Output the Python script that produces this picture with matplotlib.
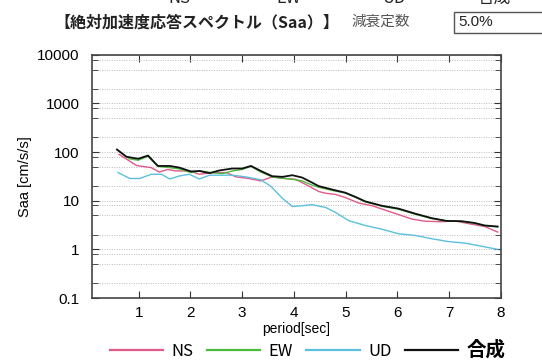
import numpy as np
import matplotlib
matplotlib.use('Agg')
from matplotlib import pyplot as plt
from matplotlib.ticker import LogLocator, NullFormatter, FixedLocator
from matplotlib.patches import Rectangle

jp = ['Noto Sans CJK JP', 'DejaVu Sans']
plt.rcParams['font.family'] = ['Liberation Sans', 'Noto Sans CJK JP', 'DejaVu Sans']

# period [sec] and Saa [cm/s/s]
ns_t = [0.62, 0.96, 1.24, 1.40, 1.56, 1.72, 1.98, 2.17, 2.43, 2.69, 2.88, 3.13, 3.36, 3.58, 3.78,
        4.03, 4.29, 4.48, 4.61, 4.80, 4.99, 5.25, 5.51, 5.89, 6.28, 6.53, 6.85, 7.11, 7.43, 7.69, 7.94]
ns_v = [90, 53, 48, 39, 44, 41, 41, 35, 38, 38, 31, 28.6, 25.6, 31, 29,
        27.7, 20, 15.5, 14.3, 13.5, 11.7, 9.0, 7.9, 5.8, 4.2, 3.8, 3.7, 3.85, 3.3, 2.95, 2.27]

ew_t = [0.58, 0.82, 0.99, 1.18, 1.37, 1.60, 1.79, 2.01, 2.20, 2.40, 2.62, 2.81, 3.00, 3.17, 3.36,
        3.58, 3.78, 3.97, 4.16, 4.35, 4.48, 4.74, 4.99, 5.19, 5.38, 5.70, 6.02, 6.34, 6.66, 6.95,
        7.24, 7.49, 7.69, 7.94]
ew_v = [113, 73, 68, 82, 51, 48, 45, 38, 41, 38, 36, 41, 44, 51, 39,
        31, 29, 27.7, 25.6, 21, 19, 16.3, 14.5, 11.8, 9.5, 7.7, 6.7, 5.3, 4.3, 3.85,
        3.75, 3.45, 3.05, 2.9]

ud_t = [0.60, 0.83, 1.02, 1.24, 1.44, 1.60, 1.79, 1.98, 2.17, 2.37, 2.62, 2.81, 3.07, 3.36, 3.55,
        3.78, 3.97, 4.16, 4.35, 4.61, 4.80, 5.06, 5.38, 5.70, 6.02, 6.34, 6.66, 6.98, 7.30, 7.63, 7.94]
ud_v = [38, 28.7, 28.7, 35, 35, 28, 32.4, 35, 28, 33.5, 33.5, 33.5, 31, 27, 20,
        11.2, 7.6, 7.9, 8.3, 7.3, 5.8, 3.9, 3.1, 2.6, 2.1, 1.94, 1.66, 1.45, 1.35, 1.16, 1.0]

all_t = [0.58, 0.76, 0.99, 1.18, 1.37, 1.60, 1.79, 2.01, 2.17, 2.37, 2.56, 2.81, 3.00, 3.17, 3.36,
         3.58, 3.78, 3.97, 4.16, 4.35, 4.48, 4.74, 4.99, 5.19, 5.38, 5.70, 6.02, 6.34, 6.66, 6.95,
         7.24, 7.49, 7.69, 7.94]
all_v = [113, 80.5, 73, 85, 52, 52, 48, 40, 41, 37, 42, 46, 46, 52, 41,
         32, 31, 33.5, 30, 23.7, 20, 17, 14.7, 12, 9.7, 7.9, 6.9, 5.45, 4.4, 3.85,
         3.8, 3.5, 3.1, 2.95]

fig = plt.figure(figsize=(5.42, 3.61), dpi=100)
ax = fig.add_axes([0.170, 0.1745, 0.754, 0.6735])

ax.plot(ns_t, ns_v, color='#e05a8a', lw=1.0, label='NS')
ax.plot(ew_t, ew_v, color='#4cba3c', lw=1.0, label='EW')
ax.plot(ud_t, ud_v, color='#5bc0de', lw=1.0, label='UD')
ax.plot(all_t, all_v, color='#111111', lw=1.3, label='合成')

ax.set_yscale('log')
ax.set_ylim(0.1, 10000)
ax.set_xlim(0.1, 8)
ax.xaxis.set_major_locator(FixedLocator([1, 2, 3, 4, 5, 6, 7, 8]))
ax.yaxis.set_major_locator(FixedLocator([0.1, 1, 10, 100, 1000, 10000]))
ax.set_yticklabels(['0.1', '1', '10', '100', '1000', '10000'])
ax.yaxis.set_minor_locator(LogLocator(base=10, subs=[2, 5, 8]))
ax.yaxis.set_minor_formatter(NullFormatter())
ax.grid(True, axis='y', which='both', linestyle=(0, (1, 1.5)), color='#bbbbbb', lw=0.7)
ax.tick_params(which='both', direction='in', top=True, right=True, labelsize=11, color='#333333')
ax.tick_params(which='major', length=5)
ax.tick_params(which='minor', length=4)
ax.tick_params(axis='x', pad=6)
ax.tick_params(axis='y', pad=9)
for s in ax.spines.values():
    s.set_color('#444444')
    s.set_linewidth(1.2)

ax.set_xlabel('period[sec]', fontsize=10, labelpad=1)
ax.set_ylabel('Saa [cm/s/s]', fontsize=10.5, labelpad=4)

leg = fig.legend(loc='center left', bbox_to_anchor=(0.203, 0.03), ncol=4, frameon=False,
                 borderaxespad=0, borderpad=0,
                 handlelength=3.2, columnspacing=0.8, handletextpad=0.5, prop={'family': jp, 'size': 12})
leg.get_texts()[3].set_fontsize(14)
leg.get_texts()[3].set_fontweight('bold')
for h in leg.legend_handles:
    h.set_linewidth(1.6)

# header
fig.text(0.10, 0.939, '【絶対加速度応答スペクトル（Saa）】', family=jp, fontsize=11.5,
         fontweight='bold', va='center', color='#222222')
fig.text(0.648, 0.939, '減衰定数', family=jp, fontsize=10.5, va='center', color='#555555')
fig.patches.append(Rectangle((0.838, 0.909), 0.2, 0.058, transform=fig.transFigure,
                             fill=False, edgecolor='#555555', lw=1.0))
fig.text(0.845, 0.938, '5.0%', fontsize=11, va='center', color='#222222')
for lbl, xx in [('NS', 0.31), ('EW', 0.51), ('UD', 0.705), ('合成', 0.88)]:
    fig.text(xx, 1.005, lbl, family=jp, fontsize=12, ha='left', va='center', color='#222222')

fig.savefig('out.png', dpi=100)
